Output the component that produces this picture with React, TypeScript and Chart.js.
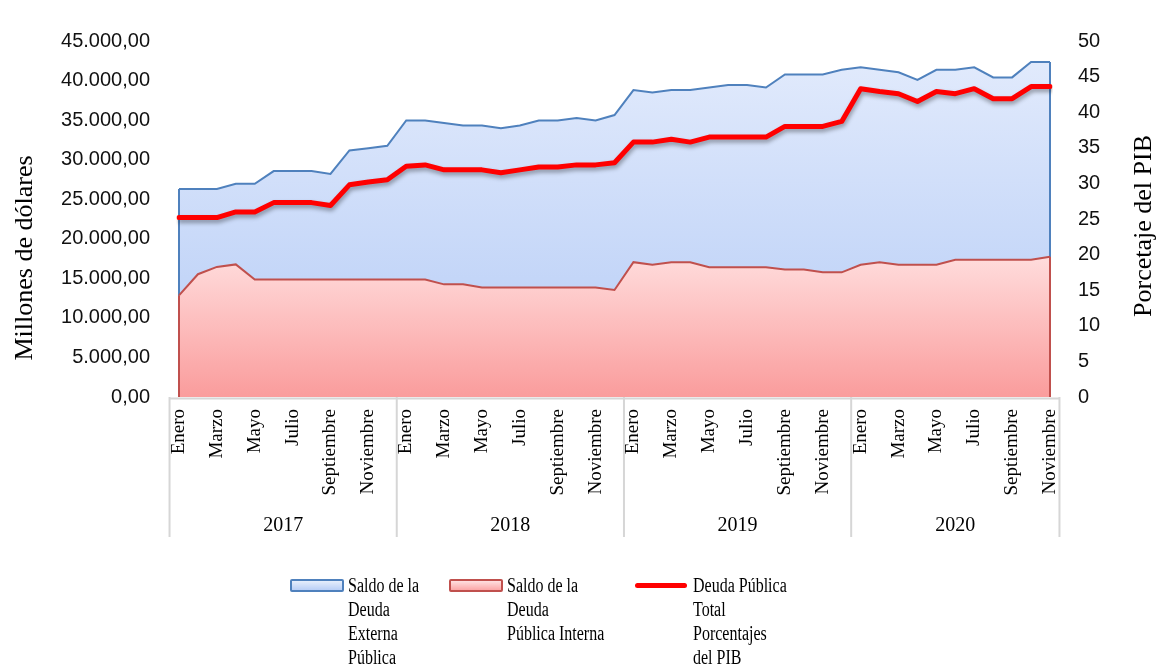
import React, { useEffect, useRef } from 'react';
import { Chart, registerables } from 'chart.js';

Chart.register(...registerables);

const YEARS = ['2017', '2018', '2019', '2020'];
const MONTHS = ['Enero', 'Febrero', 'Marzo', 'Abril', 'Mayo', 'Junio', 'Julio', 'Agosto', 'Septiembre', 'Octubre', 'Noviembre', 'Diciembre'];

// Saldo de la Deuda Externa Pública (millones de dólares)
const EXTERNA = [
  26300, 26300, 26300, 26960, 26960, 28560, 28560, 28560, 28200, 31160, 31440, 31760,
  34960, 34960, 34640, 34320, 34320, 33960, 34320, 34960, 34960, 35280, 34960, 35640,
  38800, 38480, 38800, 38800, 39120, 39440, 39440, 39120, 40760, 40760, 40760, 41360,
  41680, 41360, 41040, 40080, 41360, 41360, 41680, 40400, 40400, 42360, 42360,
];

// Saldo de la Deuda Pública Interna (millones de dólares)
const INTERNA = [
  12840, 15520, 16440, 16760, 14840, 14840, 14840, 14840, 14840, 14840, 14840, 14840,
  14840, 14840, 14240, 14240, 13840, 13840, 13840, 13840, 13840, 13840, 13840, 13520,
  17040, 16720, 17040, 17040, 16400, 16400, 16400, 16400, 16120, 16120, 15760, 15760,
  16720, 17040, 16720, 16720, 16720, 17360, 17360, 17360, 17360, 17360, 17720,
];

// Deuda Pública Total, porcentaje del PIB
const PIB = [
  25.2, 25.2, 25.2, 26.0, 26.0, 27.3, 27.3, 27.3, 26.9, 29.8, 30.2, 30.5,
  32.4, 32.6, 31.9, 31.9, 31.9, 31.5, 31.9, 32.3, 32.3, 32.6, 32.6, 32.9,
  35.8, 35.8, 36.2, 35.8, 36.5, 36.5, 36.5, 36.5, 38.0, 38.0, 38.0, 38.7,
  43.3, 42.9, 42.6, 41.5, 42.9, 42.6, 43.3, 41.9, 41.9, 43.6, 43.6,
];

const CATEGORIES = YEARS.flatMap(() => MONTHS).slice(0, EXTERNA.length);

const LEFT_MAX = 45000;
const LEFT_STEP = 5000;
const RIGHT_MAX = 50;
const RIGHT_STEP = 5;

const SERIES_NAMES = [
  'Saldo de la Deuda Externa Pública',
  'Saldo de la Deuda Pública Interna',
  'Deuda Pública Total Porcentajes del PIB',
];
const LEFT_TITLE = 'Millones de dólares';
const RIGHT_TITLE = 'Porcetaje del PIB';

const BLUE_BORDER = '#4f81bd';
const RED_BORDER = '#c0504d';
const RED_LINE = '#ff0000';

const SERIF = '"Liberation Serif", "Times New Roman", serif';
const SANS = '"Liberation Sans", Arial, sans-serif';

function fmtMiles(v: number): string {
  const s = Math.round(v).toString().replace(/\B(?=(\d{3})+(?!\d))/g, '.');
  return s + ',00';
}

function areaGradient(top: string, bottom: string, maxVal: number) {
  return (context: any) => {
    const chart = context.chart;
    const area = chart.chartArea;
    const ys = chart.scales.y;
    if (!area || !ys) return top;
    const g = chart.ctx.createLinearGradient(0, ys.getPixelForValue(maxVal), 0, area.bottom);
    g.addColorStop(0, top);
    g.addColorStop(1, bottom);
    return g;
  };
}

const decorPlugin = {
  id: 'decor',
  beforeDatasetDraw(chart: any, args: any) {
    if (args.index === 2) {
      const ctx = chart.ctx;
      ctx.save();
      ctx.shadowColor = 'rgba(0,0,0,0.35)';
      ctx.shadowBlur = 4;
      ctx.shadowOffsetX = 1;
      ctx.shadowOffsetY = 3;
    }
  },
  afterDatasetDraw(chart: any, args: any) {
    const ctx = chart.ctx;
    if (args.index === 2) {
      ctx.restore();
      return;
    }
    const ds = chart.data.datasets[args.index];
    const xs = chart.scales.x;
    const ys = chart.scales.y;
    const data = ds.data as number[];
    ctx.save();
    ctx.strokeStyle = ds.borderColor;
    ctx.lineWidth = ds.borderWidth;
    [0, data.length - 1].forEach((i) => {
      const px = xs.getPixelForValue(i);
      ctx.beginPath();
      ctx.moveTo(px, ys.getPixelForValue(data[i]));
      ctx.lineTo(px, ys.getPixelForValue(0));
      ctx.stroke();
    });
    ctx.restore();
  },
  afterDraw(chart: any) {
    const ctx = chart.ctx;
    const xs = chart.scales.x;
    const area = chart.chartArea;
    const n = CATEGORIES.length;
    const x0 = xs.getPixelForValue(-0.5);
    const x1 = xs.getPixelForValue(n - 0.5);
    const axisY = area.bottom + 1.5;
    ctx.save();
    ctx.strokeStyle = '#d6d6d6';
    ctx.lineWidth = 2;
    ctx.beginPath();
    ctx.moveTo(x0, axisY);
    ctx.lineTo(x1, axisY);
    ctx.stroke();
    const bounds: number[] = [];
    YEARS.forEach((_, k) => bounds.push(xs.getPixelForValue(Math.min(k * 12, n) - 0.5)));
    bounds.push(x1);
    bounds.forEach((bx) => {
      ctx.beginPath();
      ctx.moveTo(bx, area.bottom);
      ctx.lineTo(bx, area.bottom + 140);
      ctx.stroke();
    });
    ctx.fillStyle = '#000';
    ctx.font = `20px ${SERIF}`;
    ctx.textAlign = 'center';
    ctx.textBaseline = 'middle';
    YEARS.forEach((yr, k) => {
      const cx = (bounds[k] + bounds[k + 1]) / 2;
      ctx.fillText(yr, cx, area.bottom + 129);
    });
    ctx.font = `26px ${SERIF}`;
    ctx.save();
    ctx.translate(25, 258);
    ctx.rotate(-Math.PI / 2);
    ctx.fillText(LEFT_TITLE, 0, 0);
    ctx.restore();
    ctx.save();
    ctx.translate(1144, 226);
    ctx.rotate(-Math.PI / 2);
    ctx.fillText(RIGHT_TITLE, 0, 0);
    ctx.restore();
    ctx.restore();
  },
};

function LegendItem({ left, marker, lines }: { left: number; marker: React.ReactNode; lines: string[] }) {
  return (
    <div style={{ position: 'absolute', left, top: 573, display: 'flex' }}>
      <div style={{ width: 58, height: 24, display: 'flex', alignItems: 'center' }}>{marker}</div>
      <div
        style={{
          fontFamily: SERIF,
          fontSize: 20,
          lineHeight: '24px',
          color: '#000',
          whiteSpace: 'nowrap',
          transform: 'scaleX(0.8)',
          transformOrigin: 'left top',
        }}
      >
        {lines.map((l, i) => (
          <div key={i}>{l}</div>
        ))}
      </div>
    </div>
  );
}

export default function App() {
  const canvasRef = useRef<HTMLCanvasElement | null>(null);

  useEffect(() => {
    const canvas = canvasRef.current;
    if (!canvas) return;
    const chart = new Chart(canvas, {
      type: 'line',
      data: {
        labels: CATEGORIES,
        datasets: [
          {
            label: SERIES_NAMES[0],
            data: EXTERNA,
            yAxisID: 'y',
            borderColor: BLUE_BORDER,
            borderWidth: 2,
            backgroundColor: areaGradient('#e1eafc', '#b4cbf6', Math.max(...EXTERNA)),
            fill: 'origin',
            pointRadius: 0,
            tension: 0,
            order: 2,
          },
          {
            label: SERIES_NAMES[1],
            data: INTERNA,
            yAxisID: 'y',
            borderColor: RED_BORDER,
            borderWidth: 2,
            backgroundColor: areaGradient('#ffdcdc', '#fa9c9c', Math.max(...INTERNA)),
            fill: 'origin',
            pointRadius: 0,
            tension: 0,
            order: 1,
          },
          {
            label: SERIES_NAMES[2],
            data: PIB,
            yAxisID: 'y1',
            borderColor: RED_LINE,
            borderWidth: 5,
            borderJoinStyle: 'round',
            borderCapStyle: 'round',
            fill: false,
            pointRadius: 0,
            tension: 0,
            order: 0,
          },
        ],
      },
      options: {
        responsive: false,
        animation: false,
        devicePixelRatio: 1,
        layout: { padding: { top: 22, left: 0, right: 0, bottom: 0 } },
        plugins: {
          legend: { display: false },
          tooltip: { enabled: false },
          title: { display: false },
        },
        scales: {
          x: {
            type: 'category',
            offset: false,
            grid: { display: false, drawTicks: false },
            border: { display: false },
            afterFit: (s: any) => {
              s.height = 269;
            },
            ticks: {
              autoSkip: false,
              maxRotation: 90,
              minRotation: 90,
              padding: 12,
              color: '#000',
              font: { family: SERIF, size: 19 },
              callback: (_v: any, i: number) => (i % 2 === 0 ? CATEGORIES[i] : ''),
            },
          },
          y: {
            position: 'left',
            min: 0,
            max: LEFT_MAX,
            grid: { display: false, drawTicks: false },
            border: { display: false },
            afterFit: (s: any) => {
              s.width = 179;
            },
            ticks: {
              stepSize: LEFT_STEP,
              padding: 29,
              color: '#111',
              font: { family: SANS, size: 20 },
              callback: (v: any) => fmtMiles(Number(v)),
            },
          },
          y1: {
            position: 'right',
            min: 0,
            max: RIGHT_MAX,
            grid: { display: false, drawTicks: false },
            border: { display: false },
            afterFit: (s: any) => {
              s.width = 109;
            },
            ticks: {
              stepSize: RIGHT_STEP,
              padding: 28,
              color: '#111',
              font: { family: SANS, size: 20 },
            },
          },
        },
      },
      plugins: [decorPlugin],
    });
    return () => chart.destroy();
  }, []);

  return (
    <div style={{ position: 'absolute', left: 0, top: 0, width: 1159, height: 666, background: '#fff' }}>
      <canvas ref={canvasRef} width={1159} height={666} style={{ display: 'block' }} />
      <LegendItem
        left={290}
        marker={
          <div
            style={{
              width: 50,
              height: 9,
              border: `2px solid ${BLUE_BORDER}`,
              borderRadius: 2,
              background: 'linear-gradient(#e6eefc, #b9cff6)',
            }}
          />
        }
        lines={['Saldo de la', 'Deuda', 'Externa', 'Pública']}
      />
      <LegendItem
        left={449}
        marker={
          <div
            style={{
              width: 50,
              height: 9,
              border: `2px solid ${RED_BORDER}`,
              borderRadius: 2,
              background: 'linear-gradient(#ffe0e0, #fba6a6)',
            }}
          />
        }
        lines={['Saldo de la', 'Deuda', 'Pública Interna']}
      />
      <LegendItem
        left={635}
        marker={<div style={{ width: 52, height: 5, borderRadius: 3, background: RED_LINE }} />}
        lines={['Deuda Pública', 'Total', 'Porcentajes', 'del PIB']}
      />
    </div>
  );
}
